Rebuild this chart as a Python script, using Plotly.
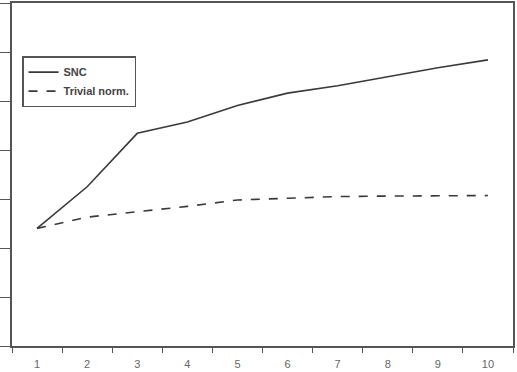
import plotly.graph_objects as go

categories = ["1", "2", "3", "4", "5", "6", "7", "8", "9", "10"]
snc = [2.40, 3.25, 4.34, 4.57, 4.91, 5.16, 5.31, 5.49, 5.68, 5.84]
trivial = [2.40, 2.63, 2.74, 2.85, 2.98, 3.02, 3.05, 3.06, 3.06, 3.07]

line_color = "#3a3a3a"
axis_color = "#555555"

fig = go.Figure()
fig.add_trace(go.Scatter(x=categories, y=snc, mode="lines", name="SNC",
                         line=dict(color=line_color, width=1.6, dash="solid")))
fig.add_trace(go.Scatter(x=categories, y=trivial, mode="lines", name="Trivial norm.",
                         line=dict(color=line_color, width=1.6, dash="dash")))

fig.update_layout(
    width=517, height=372,
    margin=dict(l=11, r=4, t=1, b=26),
    paper_bgcolor="white", plot_bgcolor="white",
    font=dict(family="Liberation Sans, Arial, sans-serif", size=11, color="#555555"),
    legend=dict(x=0.02, y=0.845, xanchor="left", yanchor="top",
                bordercolor=axis_color, borderwidth=1.5, bgcolor="white",
                font=dict(size=11, color="#444444", weight="bold"),
                tracegroupgap=0, itemwidth=30),
    showlegend=True,
)
fig.update_xaxes(type="category", range=[-0.5, 9.5], tickson="boundaries", ticks="outside",
                 ticklen=5, tickcolor=axis_color, showline=True, linecolor=axis_color,
                 linewidth=1.5, mirror=True, showgrid=False, zeroline=False,
                 ticklabelstandoff=7,
                 tickfont=dict(size=11, color="#666666"))
fig.update_yaxes(range=[0, 7], dtick=1, ticks="outside", ticklen=11,
                 tickcolor=axis_color, showline=True, linecolor=axis_color, linewidth=1.5,
                 mirror=True, showgrid=False, zeroline=False, showticklabels=False)

fig.write_html("out.html")
